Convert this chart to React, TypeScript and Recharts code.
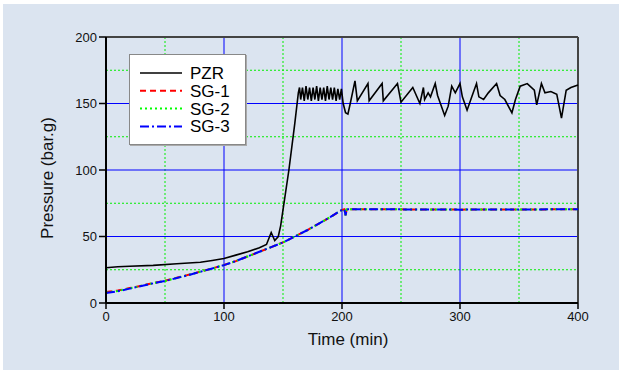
import { LineChart, Line, XAxis, YAxis, ReferenceLine, Legend, Label } from 'recharts';

// PZR pressure trace (time in min, pressure in bar.g)
const pzrTime = [
  0, 10, 20, 40, 60, 80, 90, 100, 110, 120, 130, 136, 140, 143, 146, 148, 150, 155, 160, 163,
  164, 165, 166.5, 168, 169.5, 171, 172.5, 174, 175.5, 177, 178.5, 180, 181.5, 183, 184.5, 186,
  187.5, 189, 190.5, 192, 193.5, 195, 196.5, 198, 199.5, 201, 203, 205, 207, 211, 213, 222, 223,
  234, 235, 247, 250, 260, 266, 269, 270, 273, 275, 279, 281, 287, 290, 293, 296, 300, 302, 306,
  310, 314, 316, 320, 324, 331, 334, 338, 344, 347, 351, 357, 363, 365, 369, 372, 377, 382, 386,
  390, 394, 400,
];
const pzrValue = [
  26.5, 27.3, 27.6, 28.3, 29.5, 30.6, 32, 33.5, 36, 38.5, 41.5, 44, 53, 47, 50, 58, 70, 100, 135, 158,
  162, 153, 162, 152, 163, 153, 162, 152, 162, 153, 163, 152, 162, 153, 162, 152,
  163, 153, 162, 153, 162, 152, 161, 153, 161, 150, 143, 142, 150, 167, 152, 165, 152,
  165, 152, 165, 151, 162, 150, 162, 153, 158, 155, 165, 156, 141, 148, 163, 158, 165, 155, 145,
  155, 165, 155, 153, 158, 165, 156, 153, 143, 153, 163, 165, 160, 149, 165, 158, 159, 157, 139,
  160, 162, 164,
];

// steam generator pressures
const sgTime = [0, 10, 20, 30, 40, 50, 60, 70, 80, 90, 100, 110, 120, 130, 140, 150, 160, 170, 180, 190, 198, 200, 202, 203, 204, 220, 250, 300, 350, 400];
const sg1 = [8.3, 9.4, 11.2, 13, 15, 16.8, 19, 21.2, 23.6, 26, 28.6, 31.5, 35, 38.5, 42, 45.6, 50, 54.5, 59.5, 64.5, 69, 70, 70.5, 66, 70.5, 70.5, 70.4, 70.2, 70.3, 70.5];
const sg2 = [7.8, 9.1, 11, 12.9, 14.9, 16.6, 18.9, 21.1, 23.5, 26, 28.5, 31.5, 35, 38.5, 42, 45.5, 50, 54.5, 59.5, 64.5, 69, 70, 70.5, 66, 70.5, 70.5, 70.4, 70.2, 70.3, 70.5];
const sg3 = [7.5, 8.8, 10.8, 12.8, 14.8, 16.5, 18.8, 21, 23.5, 26, 28.5, 31.5, 35, 38.5, 42, 45.5, 50, 54.5, 59.5, 64.5, 69, 70, 70.5, 66, 70.5, 70.5, 70.4, 70.2, 70.3, 70.5];

const xTicks = [0, 100, 200, 300, 400];
const yTicks = [0, 50, 100, 150, 200];
const xMinor = [50, 150, 250, 350];
const xMajor = [100, 200, 300];
const yMinor = [25, 75, 125, 175];
const yMajor = [50, 100, 150];

const series = [
  { name: 'PZR', color: '#000000', dash: undefined as string | undefined, width: 1.6, data: pzrTime.map((t, i) => ({ t, v: pzrValue[i] })) },
  { name: 'SG-1', color: '#ff0000', dash: '6 4', width: 2, data: sgTime.map((t, i) => ({ t, v: sg1[i] })) },
  { name: 'SG-2', color: '#00ff00', dash: '2 3', width: 2, data: sgTime.map((t, i) => ({ t, v: sg2[i] })) },
  { name: 'SG-3', color: '#0000ff', dash: '9 3 2 3', width: 2, data: sgTime.map((t, i) => ({ t, v: sg3[i] })) },
];

const FONT = '"Liberation Sans", Arial, sans-serif';

function LegendBox() {
  return (
    <div style={{ width: 115, height: 89, background: '#fff', border: '1px solid #888', boxShadow: '1px 1px 0 #aaa' }}>
      <svg width={115} height={89}>
        {series.map((s, i) => {
          const y = 18 + i * 17.8;
          return (
            <g key={s.name}>
              <line x1={10} x2={52} y1={y} y2={y} stroke={s.color} strokeWidth={s.width} strokeDasharray={s.dash} />
              <text x={60} y={y + 6} fontSize={17} fontFamily={FONT} fill="#000">{s.name}</text>
            </g>
          );
        })}
      </svg>
    </div>
  );
}

export default function App() {
  return (
    <div style={{ position: 'absolute', left: 0, top: 0, width: 619, height: 374, background: '#fff' }}>
      <div style={{ position: 'absolute', left: 3, top: 4, right: 0, bottom: 4, background: '#dbe4f0' }} />
      <div style={{ position: 'absolute', left: 0, top: 0 }}>
        <LineChart width={619} height={374} margin={{ top: 37, right: 41, left: 46, bottom: 41 }}>
          <XAxis
            dataKey="t" type="number" domain={[0, 400]} ticks={xTicks}
            allowDuplicatedCategory={false}
            height={30} tickSize={6} tickMargin={3}
            axisLine={{ stroke: '#000', strokeWidth: 2 }}
            tickLine={{ stroke: '#000', strokeWidth: 1.5 }}
            tick={{ fontSize: 13, fill: '#111', fontFamily: FONT }}
          >
            <Label content={() => (
              <text x={348} y={345} textAnchor="middle" fontSize={17} fontFamily={FONT} fill="#111">Time (min)</text>
            )} />
          </XAxis>
          <YAxis
            type="number" domain={[0, 200]} ticks={yTicks}
            width={60} tickSize={7} tickMargin={2}
            axisLine={{ stroke: '#000', strokeWidth: 2 }}
            tickLine={{ stroke: '#000', strokeWidth: 1.5 }}
            tick={{ fontSize: 13, fill: '#111', fontFamily: FONT }}
          >
            <Label content={() => (
              <text x={53} y={178} transform="rotate(-90 53 178)" textAnchor="middle" fontSize={17} fontFamily={FONT} fill="#111">Pressure (bar.g)</text>
            )} />
          </YAxis>
          {xMinor.map(x => <ReferenceLine key={'xm' + x} x={x} stroke="#00ee00" strokeDasharray="2 2" zIndex={-50} />)}
          {yMinor.map(y => <ReferenceLine key={'ym' + y} y={y} stroke="#00ee00" strokeDasharray="2 2" zIndex={-50} />)}
          {xMajor.map(x => <ReferenceLine key={'xM' + x} x={x} stroke="#0000ff" zIndex={-50} />)}
          {yMajor.map(y => <ReferenceLine key={'yM' + y} y={y} stroke="#0000ff" zIndex={-50} />)}
          <ReferenceLine y={200} stroke="#444" strokeWidth={2} zIndex={-50} />
          <ReferenceLine x={400} stroke="#444" strokeWidth={2} zIndex={-50} />
          {series.map(s => (
            <Line
              key={s.name} data={s.data} dataKey="v" name={s.name} type="linear"
              stroke={s.color} strokeWidth={s.width} strokeDasharray={s.dash}
              dot={false} activeDot={false} isAnimationActive={false}
            />
          ))}
          <Legend
            layout="horizontal" verticalAlign="middle"
            content={() => <LegendBox />}
            wrapperStyle={{ left: 129, top: 54, width: 117, height: 91 }}
          />
        </LineChart>
      </div>
    </div>
  );
}
